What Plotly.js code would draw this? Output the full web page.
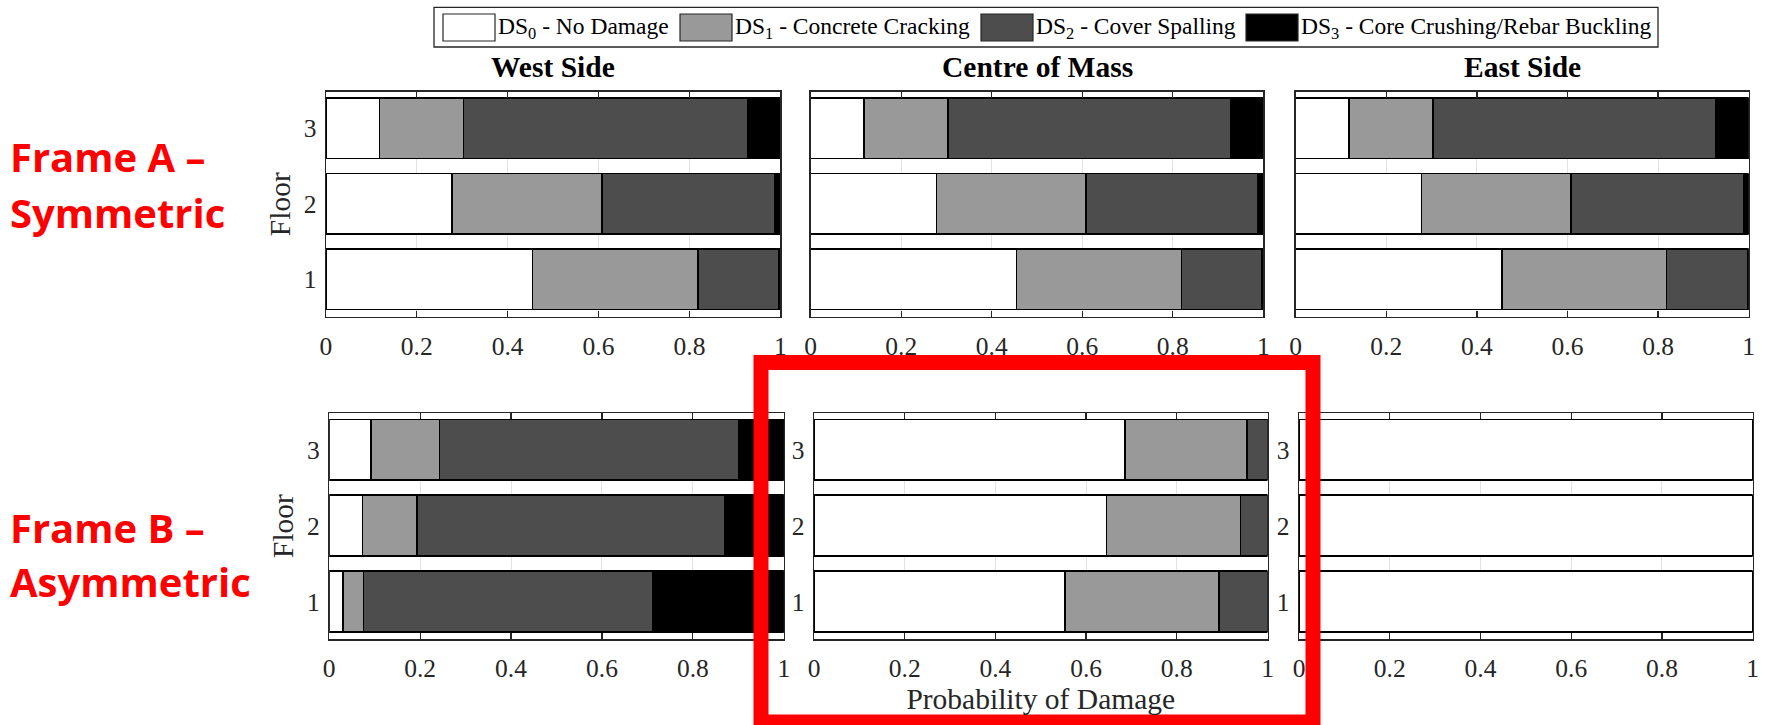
<!DOCTYPE html>
<html>
<head>
<meta charset="utf-8">
<script src="https://cdn.plot.ly/plotly-3.0.1.min.js"></script>
<style>
  html, body { margin: 0; padding: 0; background: #ffffff; }
  #chart { width: 1766px; height: 725px; }
</style>
</head>
<body>
<div id="chart"></div>
<script>
// ---- data -------------------------------------------------------------
const floors = [1, 2, 3];
const floorLabels = ['1', '2', '3'];
const locations = ['West Side', 'Centre of Mass', 'East Side'];
const stateNames = [
  'DS<sub>0</sub> - No Damage',
  'DS<sub>1</sub> - Concrete Cracking',
  'DS<sub>2</sub> - Cover Spalling',
  'DS<sub>3</sub> - Core Crushing/Rebar Buckling'
];
const stateColors = ['#ffffff', '#999999', '#4d4d4d', '#000000'];
const xTickVals = [0, 0.2, 0.4, 0.6, 0.8, 1];
const xTickText = ['0', '0.2', '0.4', '0.6', '0.8', '1'];

// Frame A (symmetric): probability of each damage state, floors 1..3
const frameA_DS0 = [0.455, 0.278, 0.118];
const frameA_DS1 = [0.364, 0.330, 0.185];
const frameA_DS2 = [0.178, 0.380, 0.625];
const frameA_DS3 = [0.003, 0.012, 0.072];

// Frame B (asymmetric), west side
const frameB_west_DS0 = [0.030, 0.073, 0.092];
const frameB_west_DS1 = [0.045, 0.120, 0.151];
const frameB_west_DS2 = [0.636, 0.677, 0.658];
const frameB_west_DS3 = [0.289, 0.130, 0.099];

// Frame B (asymmetric), centre of mass
const frameB_centre_DS0 = [0.554, 0.645, 0.686];
const frameB_centre_DS1 = [0.339, 0.295, 0.269];
const frameB_centre_DS2 = [0.107, 0.060, 0.045];
const frameB_centre_DS3 = [0.000, 0.000, 0.000];

// Frame B (asymmetric), east side
const frameB_east_DS0 = [1.000, 1.000, 1.000];
const frameB_east_DS1 = [0.000, 0.000, 0.000];
const frameB_east_DS2 = [0.000, 0.000, 0.000];
const frameB_east_DS3 = [0.000, 0.000, 0.000];

// ---- page geometry (pixels) -------------------------------------------
const W = 1766, H = 725;
const px = v => v / W;
const py = v => 1 - v / H;

const panels = [
  { states: [frameA_DS0, frameA_DS1, frameA_DS2, frameA_DS3], x: [325.8, 780.4], y: [91.7, 316.7], title: locations[0], yLabels: true, yTitle: true },
  { states: [frameA_DS0, frameA_DS1, frameA_DS2, frameA_DS3], x: [810.7, 1263.3], y: [91.7, 316.7], title: locations[1], yLabels: false },
  { states: [frameA_DS0, frameA_DS1, frameA_DS2, frameA_DS3], x: [1295.7, 1748.7], y: [91.7, 316.7], title: locations[2], yLabels: false },
  { states: [frameB_west_DS0, frameB_west_DS1, frameB_west_DS2, frameB_west_DS3], x: [329.2, 783.8], y: [412.8, 639.2], yLabels: true, yTitle: true },
  { states: [frameB_centre_DS0, frameB_centre_DS1, frameB_centre_DS2, frameB_centre_DS3], x: [814, 1267.5], y: [412.8, 639.2], yLabels: true, xTitle: true },
  { states: [frameB_east_DS0, frameB_east_DS1, frameB_east_DS2, frameB_east_DS3], x: [1299, 1752.7], y: [412.8, 639.2], yLabels: true }
];

const serif = 'Liberation Serif, Times New Roman, serif';
const ink = '#262626';

const traces = [];
const layout = {
  width: W, height: H,
  margin: { l: 0, r: 0, t: 0, b: 0 },
  paper_bgcolor: '#ffffff', plot_bgcolor: '#ffffff',
  barmode: 'stack', bargap: 0.2,
  showlegend: false,
  font: { family: serif, color: ink },
  annotations: [], shapes: []
};

panels.forEach((p, i) => {
  const n = i === 0 ? '' : String(i + 1);
  p.states.forEach((vals, s) => {
    traces.push({
      type: 'bar', orientation: 'h',
      y: floors, x: vals,
      xaxis: 'x' + n, yaxis: 'y' + n,
      name: stateNames[s],
      marker: { color: stateColors[s], line: { color: '#000000', width: 1.5 } },
      hoverinfo: 'x+name'
    });
  });

  const xa = {
    domain: [px(p.x[0]), px(p.x[1])], anchor: 'y' + n,
    range: [0, 1], tickvals: xTickVals, ticktext: xTickText,
    ticks: 'inside', ticklen: 6, tickwidth: 1.2, tickcolor: ink,
    showline: true, linecolor: ink, linewidth: 1.3, mirror: 'ticks',
    showgrid: true, gridcolor: '#e2e2e2', gridwidth: 1, zeroline: false,
    tickfont: { family: serif, size: 25.5, color: ink },
    ticklabelstandoff: 6,
    fixedrange: true
  };
  if (p.xTitle) {
    xa.title = { text: 'Probability of Damage', font: { family: serif, size: 29.5, color: ink }, standoff: 2.5 };
  }
  layout['xaxis' + n] = xa;

  const ya = {
    domain: [py(p.y[1]), py(p.y[0])], anchor: 'x' + n,
    range: [0.505, 3.485], tickvals: floors, ticktext: floorLabels,
    ticks: '', showline: true, linecolor: ink, linewidth: 1.3, mirror: true,
    showgrid: false, zeroline: false,
    showticklabels: p.yLabels,
    tickfont: { family: serif, size: 25.5, color: ink },
    ticklabelstandoff: 3,
    fixedrange: true
  };
  if (p.yTitle) {
    ya.title = { text: 'Floor', font: { family: serif, size: 29.5, color: ink }, standoff: 4 };
  }
  layout['yaxis' + n] = ya;

  if (p.title) {
    layout.annotations.push({
      xref: 'x' + n + ' domain', yref: 'paper', x: 0.5, y: py(67.5),
      xanchor: 'center', yanchor: 'middle', showarrow: false,
      text: '<b>' + p.title + '</b>',
      font: { family: serif, size: 29.5, color: '#000000' }
    });
  }
});

// legend strip across the top
layout.shapes.push({
  type: 'rect', xref: 'paper', yref: 'paper', layer: 'above',
  x0: px(434), x1: px(1658), y0: py(47), y1: py(7.3),
  line: { color: ink, width: 1.3 }, fillcolor: 'rgba(0,0,0,0)'
});
const swatchLeft = [443, 680, 981, 1246];
stateNames.forEach((name, s) => {
  layout.shapes.push({
    type: 'rect', xref: 'paper', yref: 'paper', layer: 'above',
    x0: px(swatchLeft[s]), x1: px(swatchLeft[s] + 52), y0: py(41), y1: py(14),
    line: { color: ink, width: 1.2 }, fillcolor: stateColors[s]
  });
  layout.annotations.push({
    xref: 'paper', yref: 'paper', x: px(swatchLeft[s] + 53), y: py(28),
    xanchor: 'left', yanchor: 'middle', showarrow: false,
    text: name, font: { family: serif, size: 23.5, color: '#000000' }
  });
});

// frame labels at the left
const frameLabels = [
  { text: 'Frame A \u2013', y: 156.2 },
  { text: 'Symmetric', y: 212.2 },
  { text: 'Frame B \u2013', y: 527.5 },
  { text: 'Asymmetric', y: 581.7 }
];
frameLabels.forEach(f => {
  layout.annotations.push({
    xref: 'paper', yref: 'paper', x: px(8), y: py(f.y),
    xanchor: 'left', yanchor: 'middle', showarrow: false,
    text: f.text,
    font: { family: 'Open Sans, sans-serif', size: 40, weight: 700, color: '#ff0000' }
  });
});

// highlight box around the asymmetric frame's centre-of-mass panel
layout.shapes.push({
  type: 'rect', xref: 'paper', yref: 'paper', layer: 'above',
  x0: px(761), x1: px(1313), y0: py(722), y1: py(362.5),
  line: { color: '#ff0000', width: 15 }, fillcolor: 'rgba(0,0,0,0)'
});

Plotly.newPlot('chart', traces, layout, { staticPlot: true, displayModeBar: false });
</script>
</body>
</html>
